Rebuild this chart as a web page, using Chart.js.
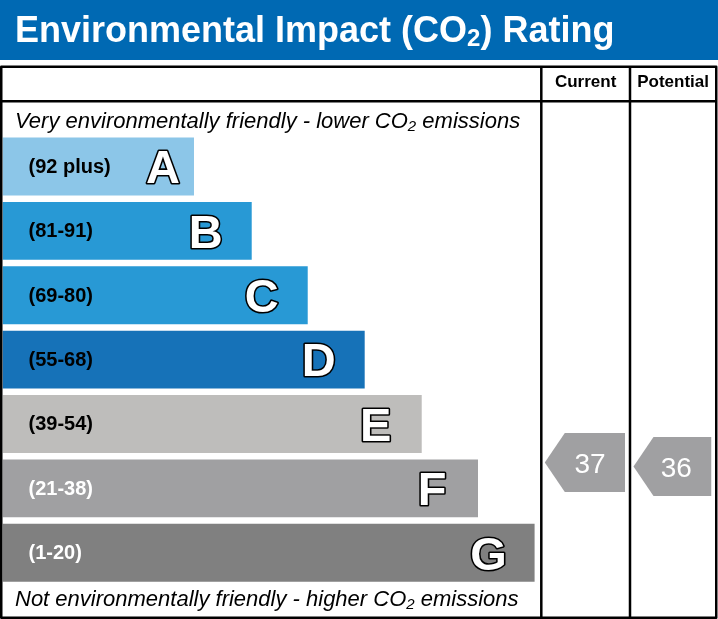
<!DOCTYPE html>
<html><head><meta charset="utf-8">
<script src="https://cdn.jsdelivr.net/npm/chart.js@4.4.0/dist/chart.umd.min.js"></script>
<style>html,body{margin:0;padding:0;background:#fff}#wrap{width:718px;height:619px;position:relative}</style>
</head><body><div id="wrap"><canvas id="c"></canvas></div>
<script>
const bandLetters = ['A','B','C','D','E','F','G'];
const bandRanges = ['(92 plus)','(81-91)','(69-80)','(55-68)','(39-54)','(21-38)','(1-20)'];
const bandLengths = [35.56, 46.28, 56.68, 67.26, 77.85, 88.30, 98.81];
const bandColors = ['#8cc6e8','#2899d5','#2899d5','#1672b8','#bebdbb','#a0a0a2','#808080'];
const bandTextColors = ['#000','#000','#000','#000','#000','#fff','#fff'];
const columnHeaders = ['Current','Potential'];
const ratingValues = [37, 36];
const titleParts = ['Environmental Impact (CO','2',') Rating'];
const topNote = ['Very environmentally friendly - lower CO','2',' emissions'];
const bottomNote = ['Not environmentally friendly - higher CO','2',' emissions'];

const FONT = '"Liberation Sans", Arial, sans-serif';
const ratingColor = '#a0a0a2';

function drawSub(ctx, parts, x, y, mainFont, subFont, subDrop, color){
  ctx.fillStyle = color; ctx.textAlign='left'; ctx.textBaseline='alphabetic';
  ctx.font = mainFont; ctx.fillText(parts[0], x, y); x += ctx.measureText(parts[0]).width;
  ctx.font = subFont; ctx.fillText(parts[1], x, y + subDrop); x += ctx.measureText(parts[1]).width;
  ctx.font = mainFont; ctx.fillText(parts[2], x, y);
}

const epcPlugin = {
  id:'epc',
  beforeDraw(chart){
    const ctx = chart.ctx;
    ctx.save();
    ctx.fillStyle='#fff'; ctx.fillRect(0,0,chart.width,chart.height);
    ctx.fillStyle='#0069b3'; ctx.fillRect(0,0,chart.width,60);
    drawSub(ctx, titleParts, 15, 42, 'bold 36px '+FONT, 'bold 24px '+FONT, 4, '#fff');
    ctx.restore();
  },
  afterDatasetsDraw(chart){
    const ctx = chart.ctx;
    const meta = chart.getDatasetMeta(0);
    const area = chart.chartArea;
    ctx.save();
    meta.data.forEach((bar, i) => {
      ctx.font = 'bold 20px '+FONT;
      ctx.fillStyle = bandTextColors[i];
      ctx.textAlign='left'; ctx.textBaseline='middle';
      ctx.fillText(bandRanges[i], area.left + 26, bar.y + 1);
      ctx.font = 'bold 47px '+FONT;
      ctx.textAlign='center'; ctx.textBaseline='alphabetic';
      const cx = bar.x - (i === 0 ? 31 : 46);
      const by = bar.y + 0.716*47/2;
      ctx.lineJoin='round';
      ctx.lineWidth = 3.2; ctx.strokeStyle='#000';
      ctx.strokeText(bandLetters[i], cx, by);
      ctx.fillStyle='#fff';
      ctx.fillText(bandLetters[i], cx, by);
    });

    const col1 = 541.3, col2 = 630, right = 716.25, top = 66.75, bottom = 617.75, headerY = 101.2;
    ctx.strokeStyle='#000'; ctx.lineWidth=2.5;
    ctx.strokeRect(1.25, top, right-1.25, bottom-top);
    ctx.beginPath();
    ctx.moveTo(0, headerY); ctx.lineTo(right, headerY);
    ctx.moveTo(col1, top); ctx.lineTo(col1, bottom);
    ctx.moveTo(col2, top); ctx.lineTo(col2, bottom);
    ctx.stroke();

    ctx.fillStyle='#000'; ctx.font='bold 17px '+FONT; ctx.textAlign='center'; ctx.textBaseline='alphabetic';
    ctx.fillText(columnHeaders[0], (col1+col2)/2, 87);
    ctx.fillText(columnHeaders[1], (col2+right)/2, 87);

    drawSub(ctx, topNote, 15, 127.5, 'italic 22px '+FONT, 'italic 15px '+FONT, 3, '#000');
    drawSub(ctx, bottomNote, 15, 605.7, 'italic 22px '+FONT, 'italic 15px '+FONT, 3, '#000');

    const sc = chart.scales.score;
    const cols = [[col1, col2],[col2, right]];
    ratingValues.forEach((v, k) => {
      const yc = sc.getPixelForValue(v);
      const h = 59;
      const tip = cols[k][0] + 3.5, r = cols[k][1] - 5, body = tip + 20;
      ctx.fillStyle = ratingColor;
      ctx.beginPath();
      ctx.moveTo(tip, yc);
      ctx.lineTo(body, yc - h/2);
      ctx.lineTo(r, yc - h/2);
      ctx.lineTo(r, yc + h/2);
      ctx.lineTo(body, yc + h/2);
      ctx.closePath(); ctx.fill();
      ctx.fillStyle='#fff'; ctx.font='28px '+FONT; ctx.textAlign='center'; ctx.textBaseline='alphabetic';
      ctx.fillText(String(v), r - 35, yc + 10);
    });
    ctx.restore();
  }
};

new Chart(document.getElementById('c'), {
  type:'bar',
  data:{labels: bandLetters, datasets:[{data: bandLengths, backgroundColor: bandColors, borderWidth:0, categoryPercentage:1, barPercentage:0.9}]},
  options:{
    indexAxis:'y', responsive:true, maintainAspectRatio:false, animation:false,
    layout:{padding:{left:2.5,right:177,top:134.3,bottom:34.1}},
    plugins:{legend:{display:false}, tooltip:{enabled:false}, title:{display:false}},
    scales:{
      x:{type:'linear',min:0,max:100,display:false},
      y:{type:'category',display:false,offset:true},
      score:{type:'linear',axis:'y',position:'right',min:6.4,max:119.05,bounds:'data',offset:false,grid:{offset:false},display:false}
    }
  },
  plugins:[epcPlugin]
});
</script>
</body></html>
